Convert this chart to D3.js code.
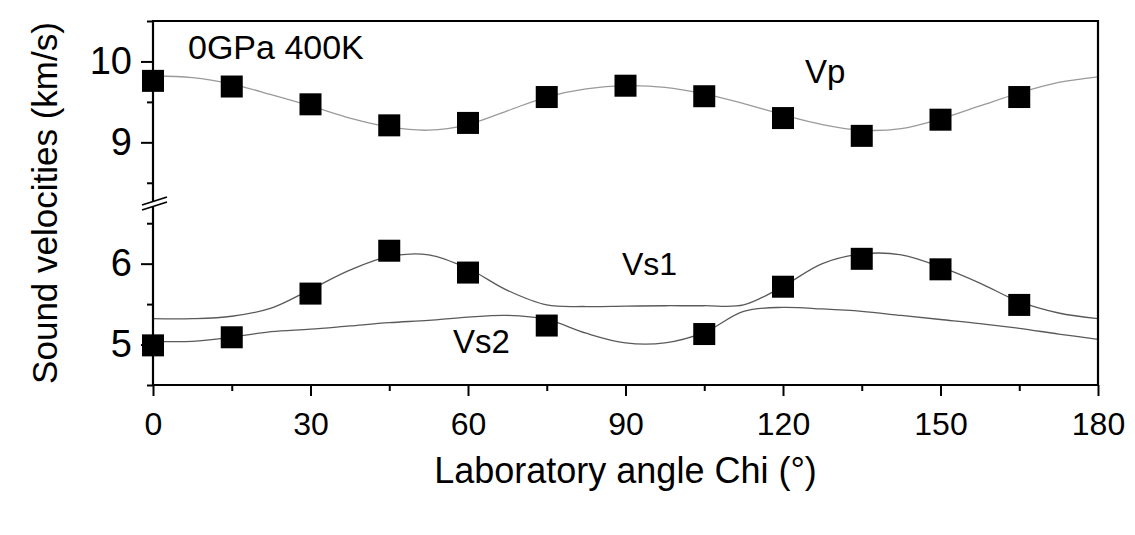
<!doctype html>
<html>
<head>
<meta charset="utf-8">
<style>
    body { margin: 0; background: #fff; }
    svg { display: block; font-family: "Liberation Sans", Arial, sans-serif; }
    .curve { fill: none; stroke-width: 1.3px; }
</style>
<script src="https://cdn.jsdelivr.net/npm/d3@7"></script>
</head>
<body>
<div id="chart"></div>
<script>
// measured points (square markers)
var angles = [0, 15, 30, 45, 60, 75, 90, 105, 120, 135, 150, 165];
var vpPoints = [9.76, 9.69, 9.47, 9.21, 9.24, 9.56, 9.70, 9.57, 9.30, 9.08, 9.28, 9.56];
var vsAngles = [0, 15, 30, 45, 60, 75, 105, 120, 135, 150, 165];
var vsPoints = [4.99, 5.09, 5.63, 6.16, 5.89, 5.235, 5.13, 5.715, 6.06, 5.93, 5.49];

// fitted curves, read every 7.5 degrees
var curveAngles = [0, 7.5, 15, 22.5, 30, 37.5, 45, 52.5, 60, 67.5, 75, 82.5, 90,
                   97.5, 105, 112.5, 120, 127.5, 135, 142.5, 150, 157.5, 165, 172.5, 180];
var vpFit  = [9.82, 9.80, 9.72, 9.59, 9.45, 9.30, 9.19, 9.15, 9.22, 9.39, 9.56, 9.66, 9.70,
              9.68, 9.60, 9.48, 9.34, 9.22, 9.15, 9.17, 9.29, 9.45, 9.61, 9.74, 9.81];
var vs1Fit = [5.32, 5.32, 5.35, 5.45, 5.68, 5.92, 6.09, 6.11, 5.94, 5.67, 5.49, 5.47, 5.475,
              5.48, 5.48, 5.49, 5.72, 6.00, 6.12, 6.11, 5.96, 5.76, 5.53, 5.39, 5.32];
var vs2Fit = [5.04, 5.04, 5.09, 5.16, 5.19, 5.23, 5.27, 5.30, 5.34, 5.36, 5.31, 5.14, 5.02,
              5.02, 5.15, 5.41, 5.46, 5.44, 5.41, 5.36, 5.31, 5.26, 5.20, 5.13, 5.065];

var xTicks = [0, 30, 60, 90, 120, 150, 180];
var xMinor = [15, 45, 75, 105, 135, 165];
var upperTicks = [9, 10], upperMinor = [8.5, 9.5, 10.5];
var lowerTicks = [5, 6], lowerMinor = [4.5, 5.5, 6.5];

var W = 1135, H = 535;
var plotLeft = 153, plotRight = 1098, plotTop = 21, plotBottom = 385, breakY = 203;

var svg = d3.select("#chart").append("svg")
    .attr("width", W)
    .attr("height", H);

var x = d3.scaleLinear().domain([0, 180]).range([plotLeft, plotRight]);
var yUp = d3.scaleLinear().domain([8.25, 10.5]).range([breakY, plotTop]);
var yLo = d3.scaleLinear().domain([4.5, 6.75]).range([plotBottom, breakY]);

// curves
var line = function(ys, scale) {
    return d3.line()
        .x(function(d, i) { return x(curveAngles[i]); })
        .y(function(d) { return scale(d); })
        .curve(d3.curveCatmullRom.alpha(0.5))(ys);
};
svg.append("path").attr("class", "curve").attr("stroke", "#9a9a9a").attr("d", line(vpFit, yUp));
svg.append("path").attr("class", "curve").attr("stroke", "#5a5a5a").attr("d", line(vs1Fit, yLo));
svg.append("path").attr("class", "curve").attr("stroke", "#5a5a5a").attr("d", line(vs2Fit, yLo));

// squares
var sq = 22;
svg.append("g").selectAll("rect")
    .data(vpPoints).enter().append("rect")
    .attr("x", function(d, i) { return x(angles[i]) - sq / 2; })
    .attr("y", function(d) { return yUp(d) - sq / 2; })
    .attr("width", sq).attr("height", sq)
    .attr("fill", "#000");
svg.append("g").selectAll("rect")
    .data(vsPoints).enter().append("rect")
    .attr("x", function(d, i) { return x(vsAngles[i]) - sq / 2; })
    .attr("y", function(d) { return yLo(d) - sq / 2; })
    .attr("width", sq).attr("height", sq)
    .attr("fill", "#000");

// frame: top and right
svg.append("path")
    .attr("d", "M" + plotLeft + "," + plotTop + "H" + plotRight + "V" + plotBottom)
    .attr("fill", "none").attr("stroke", "#000").attr("stroke-width", 2.2);

// x axis
var xAxis = svg.append("g")
    .attr("transform", "translate(0," + plotBottom + ")")
    .call(d3.axisBottom(x).tickValues(xTicks).tickSize(11).tickPadding(16));
xAxis.select(".domain").remove();
xAxis.selectAll(".tick line").attr("stroke-width", 2);
xAxis.selectAll("text").attr("font-size", 32).attr("fill", "#000");
xAxis.attr("font-family", null);
svg.append("g")
    .attr("transform", "translate(0," + plotBottom + ")")
    .call(d3.axisBottom(x).tickValues(xMinor).tickSize(6).tickFormat(""))
    .call(function(g) { g.select(".domain").remove(); g.selectAll("line").attr("stroke-width", 2); });
svg.append("line")
    .attr("x1", plotLeft - 1).attr("x2", plotRight + 1)
    .attr("y1", plotBottom).attr("y2", plotBottom)
    .attr("stroke", "#000").attr("stroke-width", 2.2);

// y axes (two segments)
function yAxis(scale, major, minor) {
    var g = svg.append("g").attr("transform", "translate(" + plotLeft + ",0)");
    g.call(d3.axisLeft(scale).tickValues(major).tickSize(12).tickPadding(9).tickFormat(d3.format("d")));
    g.attr("font-family", null);
    g.select(".domain").remove();
    g.selectAll(".tick line").attr("stroke-width", 2);
    g.selectAll("text").attr("font-size", 38).attr("fill", "#000");
    var m = svg.append("g").attr("transform", "translate(" + plotLeft + ",0)");
    m.call(d3.axisLeft(scale).tickValues(minor).tickSize(6).tickFormat(""));
    m.select(".domain").remove();
    m.selectAll("line").attr("stroke-width", 2);
}
yAxis(yUp, upperTicks, upperMinor);
yAxis(yLo, lowerTicks, lowerMinor);

svg.append("line")
    .attr("x1", plotLeft).attr("x2", plotLeft)
    .attr("y1", plotTop - 1).attr("y2", breakY - 2)
    .attr("stroke", "#000").attr("stroke-width", 2.2);
svg.append("line")
    .attr("x1", plotLeft).attr("x2", plotLeft)
    .attr("y1", breakY + 3).attr("y2", plotBottom + 1)
    .attr("stroke", "#000").attr("stroke-width", 2.2);

// break marks
[0, 5].forEach(function(off) {
    svg.append("line")
        .attr("x1", plotLeft - 11).attr("y1", breakY + 2 + off)
        .attr("x2", plotLeft + 14).attr("y2", breakY - 6 + off)
        .attr("stroke", "#000").attr("stroke-width", 1.8);
});

// axis titles
svg.append("text")
    .attr("transform", "translate(57," + ((plotTop + plotBottom) / 2) + ") rotate(-90)")
    .attr("text-anchor", "middle")
    .attr("font-size", 35)
    .text("Sound velocities (km/s)");
svg.append("text")
    .attr("x", (plotLeft + plotRight) / 2)
    .attr("y", 483)
    .attr("text-anchor", "middle")
    .attr("font-size", 36)
    .text("Laboratory angle Chi (°)");

// annotations
svg.append("text").attr("x", 188).attr("y", 59).attr("font-size", 34).text("0GPa 400K");
svg.append("text").attr("x", 805).attr("y", 83).attr("font-size", 33).text("Vp");
svg.append("text").attr("x", 622).attr("y", 275).attr("font-size", 32).text("Vs1");
svg.append("text").attr("x", 453).attr("y", 353).attr("font-size", 33).text("Vs2");
</script>
</body>
</html>
